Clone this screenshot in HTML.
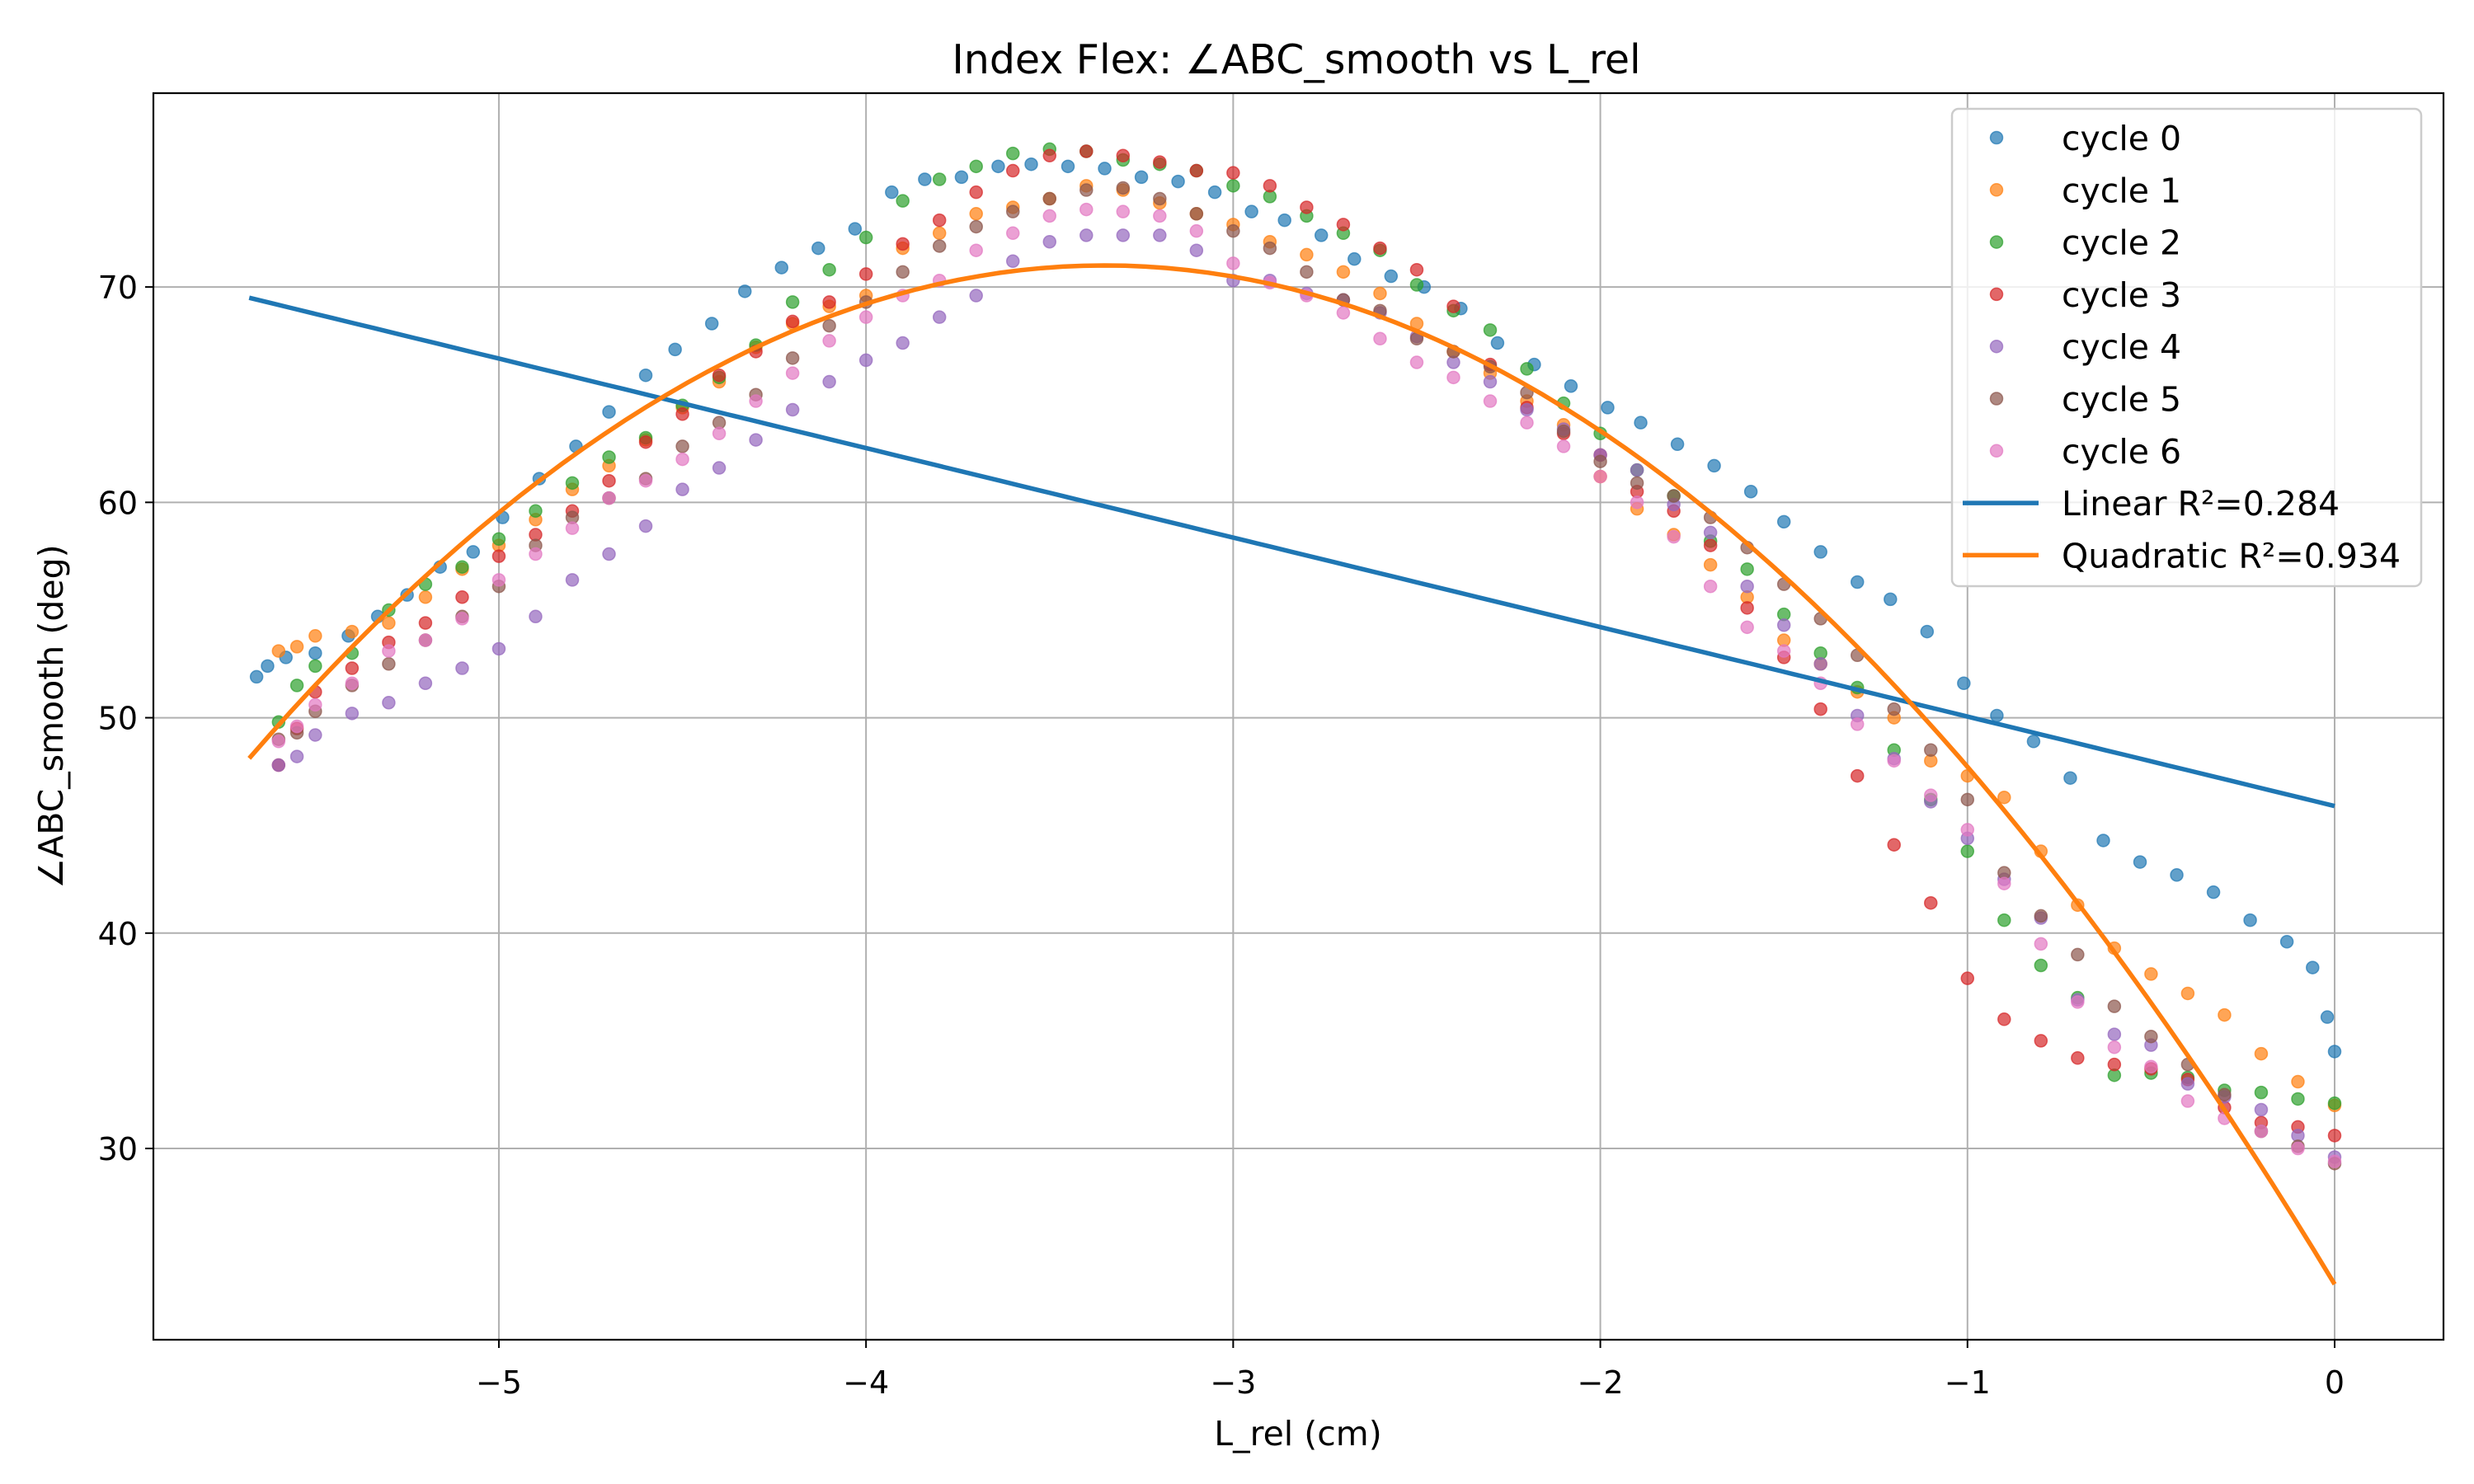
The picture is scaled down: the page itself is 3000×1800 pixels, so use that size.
<!DOCTYPE html>
<html><head><meta charset="utf-8"><style>
html,body{margin:0;padding:0;background:#fff;}
svg{display:block;font-family:"DejaVu Sans","Liberation Sans",sans-serif;}
</style></head><body>
<svg id="chart" width="3000" height="1800" viewBox="0 0 3000 1800" xmlns="http://www.w3.org/2000/svg">
<rect width="3000" height="1800" fill="#fff"/>
<g id="grid"></g>
<g id="marks"></g>
<g id="axes"></g>
<text x="1572" y="89" font-size="49" text-anchor="middle">Index Flex: ∠ABC_smooth vs L_rel</text>
<text x="1574" y="1753" font-size="41" text-anchor="middle">L_rel (cm)</text>
<text x="76" y="869" font-size="41" text-anchor="middle" transform="rotate(-90 76 869)">∠ABC_smooth (deg)</text>
<g id="legend"></g>
</svg>
<script>
const xTicks = [-5, -4, -3, -2, -1, 0];
const xTickLabels = ["−5", "−4", "−3", "−2", "−1", "0"];
const yTicks = [30, 40, 50, 60, 70];
const yTickLabels = ["30", "40", "50", "60", "70"];
const cycleNames = ["cycle 0","cycle 1","cycle 2","cycle 3","cycle 4","cycle 5","cycle 6"];
const colors = ["#1f77b4","#ff7f0e","#2ca02c","#d62728","#9467bd","#8c564b","#e377c2"];
const x0 = [-5.66,-5.63,-5.58,-5.50,-5.41,-5.33,-5.25,-5.16,-5.07,-4.99,-4.89,-4.79,-4.70,-4.60,-4.52,-4.42,-4.33,-4.23,-4.13,-4.03,-3.93,-3.84,-3.74,-3.64,-3.55,-3.45,-3.35,-3.25,-3.15,-3.05,-2.95,-2.86,-2.76,-2.67,-2.57,-2.48,-2.38,-2.28,-2.18,-2.08,-1.98,-1.89,-1.79,-1.69,-1.59,-1.50,-1.40,-1.30,-1.21,-1.11,-1.01,-0.92,-0.82,-0.72,-0.63,-0.53,-0.43,-0.33,-0.23,-0.13,-0.06,-0.02,0];
const y0 = [51.9,52.4,52.8,53.0,53.8,54.7,55.7,57.0,57.7,59.3,61.1,62.6,64.2,65.9,67.1,68.3,69.8,70.9,71.8,72.7,74.4,75.0,75.1,75.6,75.7,75.6,75.5,75.1,74.9,74.4,73.5,73.1,72.4,71.3,70.5,70.0,69.0,67.4,66.4,65.4,64.4,63.7,62.7,61.7,60.5,59.1,57.7,56.3,55.5,54.0,51.6,50.1,48.9,47.2,44.3,43.3,42.7,41.9,40.6,39.6,38.4,36.1,34.5];
const xGrid = [-5.6,-5.55,-5.5,-5.4,-5.3,-5.2,-5.1,-5.0,-4.9,-4.8,-4.7,-4.6,-4.5,-4.4,-4.3,-4.2,-4.1,-4.0,-3.9,-3.8,-3.7,-3.6,-3.5,-3.4,-3.3,-3.2,-3.1,-3.0,-2.9,-2.8,-2.7,-2.6,-2.5,-2.4,-2.3,-2.2,-2.1,-2.0,-1.9,-1.8,-1.7,-1.6,-1.5,-1.4,-1.3,-1.2,-1.1,-1.0,-0.9,-0.8,-0.7,-0.6,-0.5,-0.4,-0.3,-0.2,-0.1,0];
const y1 = [53.1,53.3,53.8,54.0,54.4,55.6,56.9,58.0,59.2,60.6,61.7,62.9,64.4,65.6,67.2,68.3,69.1,69.6,71.8,72.5,73.4,73.7,74.1,74.7,74.5,73.9,73.4,72.9,72.1,71.5,70.7,69.7,68.3,67.0,66.0,64.7,63.6,61.2,59.7,58.5,57.1,55.6,53.6,52.5,51.2,50.0,48.0,47.3,46.3,43.8,41.3,39.3,38.1,37.2,36.2,34.4,33.1,32.0];
const y2 = [49.8,51.5,52.4,53.0,55.0,56.2,57.0,58.3,59.6,60.9,62.1,63.0,64.5,65.8,67.3,69.3,70.8,72.3,74.0,75.0,75.6,76.2,76.4,76.3,75.9,75.7,75.4,74.7,74.2,73.3,72.5,71.7,70.1,68.9,68.0,66.2,64.6,63.2,61.5,60.3,58.2,56.9,54.8,53.0,51.4,48.5,46.2,43.8,40.6,38.5,37.0,33.4,33.5,33.3,32.7,32.6,32.3,32.1];
const y3 = [47.8,49.5,51.2,52.3,53.5,54.4,55.6,57.5,58.5,59.6,61.0,62.8,64.1,65.9,67.0,68.4,69.3,70.6,72.0,73.1,74.4,75.4,76.1,76.3,76.1,75.8,75.4,75.3,74.7,73.7,72.9,71.8,70.8,69.1,66.4,64.4,63.2,62.2,60.5,59.6,58.0,55.1,52.8,50.4,47.3,44.1,41.4,37.9,36.0,35.0,34.2,33.9,33.7,33.2,31.9,31.2,31.0,30.6];
const y4 = [47.8,48.2,49.2,50.2,50.7,51.6,52.3,53.2,54.7,56.4,57.6,58.9,60.6,61.6,62.9,64.3,65.6,66.6,67.4,68.6,69.6,71.2,72.1,72.4,72.4,72.4,71.7,70.3,70.3,69.7,69.4,68.8,67.7,66.5,65.6,64.3,63.4,62.2,61.5,59.9,58.6,56.1,54.3,52.5,50.1,48.1,46.1,44.4,42.5,40.7,36.9,35.3,34.8,33.0,32.4,31.8,30.6,29.6];
const y5 = [49.0,49.3,50.3,51.5,52.5,53.6,54.7,56.1,58.0,59.3,60.2,61.1,62.6,63.7,65.0,66.7,68.2,69.3,70.7,71.9,72.8,73.5,74.1,74.5,74.6,74.1,73.4,72.6,71.8,70.7,69.4,68.9,67.6,67.0,66.3,65.1,63.3,61.9,60.9,60.3,59.3,57.9,56.2,54.6,52.9,50.4,48.5,46.2,42.8,40.8,39.0,36.6,35.2,33.9,32.5,30.8,30.1,29.3];
const y6 = [48.9,49.6,50.6,51.6,53.1,53.6,54.6,56.4,57.6,58.8,60.2,61.0,62.0,63.2,64.7,66.0,67.5,68.6,69.6,70.3,71.7,72.5,73.3,73.6,73.5,73.3,72.6,71.1,70.2,69.6,68.8,67.6,66.5,65.8,64.7,63.7,62.6,61.2,60.0,58.4,56.1,54.2,53.1,51.6,49.7,48.0,46.4,44.8,42.3,39.5,36.8,34.7,33.8,32.2,31.4,30.8,30.0,29.4];
const linearFit = [-4.155, 45.9];          // slope, intercept
const quadFit = [-4.215, -3.35, 71.0];     // a, vertex x, vertex y
const fitRange = [-5.68, 0];

const NS = "http://www.w3.org/2000/svg";
const L = 186, R = 2963, T = 113, B = 1625;
const XMIN = -5.941, XMAX = 0.2965, YMIN = 21.12, YMAX = 79.0;
const sx = v => L + (v - XMIN) / (XMAX - XMIN) * (R - L);
const sy = v => B - (v - YMIN) / (YMAX - YMIN) * (B - T);
function mk(tag, attrs, parent) {
  const e = document.createElementNS(NS, tag);
  for (const k in attrs) e.setAttribute(k, attrs[k]);
  parent.appendChild(e);
  return e;
}
const grid = document.getElementById("grid");
const marks = document.getElementById("marks");
const axes = document.getElementById("axes");
const legend = document.getElementById("legend");

xTicks.forEach((t, i) => {
  const g = mk("line", {x1: sx(t), x2: sx(t), y1: T, y2: B, stroke: "#b0b0b0", "stroke-width": 2}, grid);
  
  
  const tk = mk("line", {x1: sx(t), x2: sx(t), y1: B, y2: B + 10, stroke: "#000", "stroke-width": 2}, axes);
  
  
  const lb = mk("text", {x: sx(t), y: B + 65, "font-size": 38, "text-anchor": "middle"}, axes);
  lb.textContent = xTickLabels[i];
  
  
});
yTicks.forEach((t, i) => {
  const g = mk("line", {x1: L, x2: R, y1: sy(t), y2: sy(t), stroke: "#b0b0b0", "stroke-width": 2}, grid);
  
  
  const tk = mk("line", {x1: L - 10, x2: L, y1: sy(t), y2: sy(t), stroke: "#000", "stroke-width": 2}, axes);
  
  
  const lb = mk("text", {x: L - 19, y: sy(t) + 14, "font-size": 38, "text-anchor": "end"}, axes);
  lb.textContent = yTickLabels[i];
  
  
});
const frame = mk("rect", {x: L, y: T, width: R - L, height: B - T, fill: "none", stroke: "#000", "stroke-width": 2.2}, axes);



const xsList = [x0, xGrid, xGrid, xGrid, xGrid, xGrid, xGrid];
const ysList = [y0, y1, y2, y3, y4, y5, y6];
ysList.forEach((ys, c) => {
  const g = mk("g", {}, marks);
  
  
  ys.forEach((v, i) => {
    const p = mk("circle", {cx: sx(xsList[c][i]), cy: sy(v), r: 7.5, fill: colors[c], "fill-opacity": 0.7, stroke: colors[c], "stroke-opacity": 0.7, "stroke-width": 1.5}, g);
    
    
  });
});

let lp = "", qp = "";
for (let i = 0; i <= 100; i++) {
  const x = fitRange[0] + (fitRange[1] - fitRange[0]) * i / 100;
  const yl = linearFit[0] * x + linearFit[1];
  const yq = quadFit[0] * (x - quadFit[1]) * (x - quadFit[1]) + quadFit[2];
  lp += (i ? "L" : "M") + sx(x).toFixed(1) + "," + sy(yl).toFixed(1);
  qp += (i ? "L" : "M") + sx(x).toFixed(1) + "," + sy(yq).toFixed(1);
}
const linLine = mk("path", {d: lp, fill: "none", stroke: "#1f77b4", "stroke-width": 5.5}, marks);


const quadLine = mk("path", {d: qp, fill: "none", stroke: "#ff7f0e", "stroke-width": 5.5}, marks);



const box = mk("rect", {x: 2367, y: 132, width: 569, height: 579, rx: 8, fill: "#fff", "fill-opacity": 0.8, stroke: "#cccccc", "stroke-width": 2.5}, legend);


const legendLabels = cycleNames.concat(["Linear R²=0.284", "Quadratic R²=0.934"]);
legendLabels.forEach((name, i) => {
  const cy = 167 + i * 63.3;
  if (i < 7) {
    const m = mk("circle", {cx: 2421, cy: cy, r: 7.5, fill: colors[i], "fill-opacity": 0.7, stroke: colors[i], "stroke-opacity": 0.7, "stroke-width": 1.5}, legend);
    
    
  } else {
    const ln = mk("line", {x1: 2380, x2: 2472, y1: cy, y2: cy, stroke: i === 7 ? "#1f77b4" : "#ff7f0e", "stroke-width": 5.5}, legend);
    
    
  }
  const t = mk("text", {x: 2500, y: cy + 15, "font-size": 41}, legend);
  t.textContent = name;
  
  
});
</script>
</body></html>
